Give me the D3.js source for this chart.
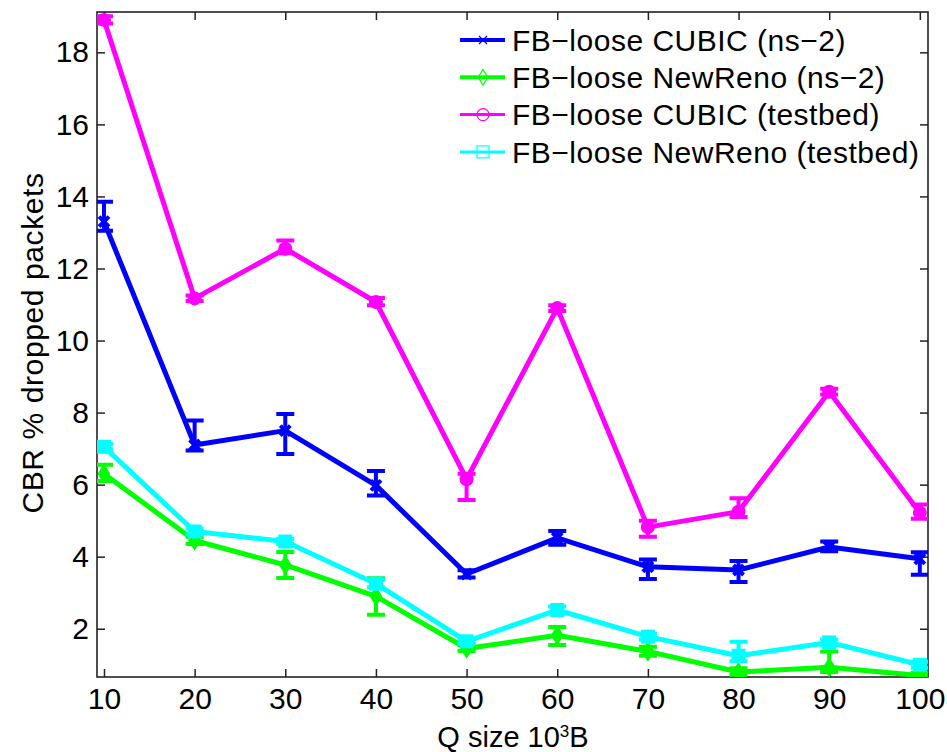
<!DOCTYPE html>
<html>
<head>
<meta charset="utf-8">
<script src="https://cdn.jsdelivr.net/npm/d3@7"></script>
<style>
  body { margin: 0; background: #fff; }
  text { font-family: "Liberation Sans", Arial, sans-serif; fill: #000; }
</style>
</head>
<body>
<svg id="chart" width="947" height="752"></svg>
<script>
// queue sizes (10^3 B)
let qSizes = [10, 20, 30, 40, 50, 60, 70, 80, 90, 100];

let cubicNs2 = [13.3, 7.1, 7.5, 5.98, 3.52, 4.52, 3.72, 3.63, 4.27, 3.94];
let cubicNs2Lo = [13.05, 6.95, 6.85, 5.7, 3.42, 4.33, 3.38, 3.3, 4.15, 3.5];
let cubicNs2Hi = [13.85, 7.78, 7.96, 6.38, 3.62, 4.71, 3.92, 3.88, 4.42, 4.12];

let renoNs2 = [6.3, 4.45, 3.77, 2.9, 1.45, 1.82, 1.37, 0.8, 0.93, 0.7];
let renoNs2Lo = [6.1, 4.35, 3.41, 2.39, 1.38, 1.55, 1.25, 0.72, 0.8, 0.65];
let renoNs2Hi = [6.55, 4.55, 4.13, 3.4, 1.55, 2.05, 1.5, 0.9, 1.37, 0.78];

let cubicTb = [18.9, 11.17, 12.55, 11.07, 6.15, 10.9, 4.82, 5.25, 8.58, 5.22];
let cubicTbLo = [18.8, 11.1, 12.42, 10.98, 5.57, 10.82, 4.55, 5.1, 8.5, 5.05];
let cubicTbHi = [19.0, 11.25, 12.78, 11.18, 6.3, 10.98, 5.0, 5.62, 8.66, 5.45];

let renoTb = [7.05, 4.7, 4.42, 3.25, 1.65, 2.52, 1.78, 1.25, 1.62, 1.0];
let renoTbLo = [6.98, 4.62, 4.35, 3.15, 1.58, 2.42, 1.7, 1.1, 1.55, 0.92];
let renoTbHi = [7.12, 4.78, 4.5, 3.35, 1.72, 2.62, 1.86, 1.64, 1.7, 1.08];

let yTicks = [2, 4, 6, 8, 10, 12, 14, 16, 18];

let seriesNames = ["FB\u2212loose CUBIC (ns\u22122)", "FB\u2212loose NewReno (ns\u22122)",
    "FB\u2212loose CUBIC (testbed)", "FB\u2212loose NewReno (testbed)"];
let seriesColors = ["#0000ff", "#00ff00", "#ff00ff", "#00ffff"];
let seriesMarkers = ["x", "diamond", "circle", "square"];

let series = [
    {mean: cubicNs2, lo: cubicNs2Lo, hi: cubicNs2Hi},
    {mean: renoNs2, lo: renoNs2Lo, hi: renoNs2Hi},
    {mean: cubicTb, lo: cubicTbLo, hi: cubicTbHi},
    {mean: renoTb, lo: renoTbLo, hi: renoTbHi}
];

let svg = d3.select("#chart"),
    margin = {top: 12, right: 19, bottom: 75, left: 97},
    width = 947 - margin.left - margin.right,
    height = 752 - margin.top - margin.bottom,
    g = svg.append("g").attr("transform", "translate(" + margin.left + "," + margin.top + ")");

let scaleX = d3.scaleLinear().domain([9.23, 100.9]).range([0, width]);
let scaleY = d3.scaleLinear().domain([0.66, 19.12]).range([height, 0]);

svg.append("defs").append("clipPath").attr("id", "clip")
    .append("rect").attr("width", width).attr("height", height);

// axes, ticks inside, mirrored on top / right
let tickLen = 8;
g.append("g").attr("transform", "translate(0," + height + ")")
    .call(d3.axisBottom(scaleX).tickValues(qSizes).tickSizeInner(-tickLen).tickSizeOuter(0).tickPadding(11))
    .call(a => a.selectAll("text").style("font-size", "30px").attr("dy", "0.71em"));
g.append("g")
    .call(d3.axisTop(scaleX).tickValues(qSizes).tickSizeInner(-tickLen).tickSizeOuter(0).tickFormat(""));
g.append("g")
    .call(d3.axisLeft(scaleY).tickValues(yTicks).tickSizeInner(-tickLen).tickSizeOuter(0).tickPadding(8))
    .call(a => a.selectAll("text").style("font-size", "30px"));
g.append("g").attr("transform", "translate(" + width + ",0)")
    .call(d3.axisRight(scaleY).tickValues(yTicks).tickSizeInner(-tickLen).tickSizeOuter(0).tickFormat(""));
g.selectAll(".domain").remove();
g.selectAll(".tick line").attr("stroke", "#222").attr("stroke-width", 1.5);
g.append("rect").attr("width", width).attr("height", height)
    .attr("fill", "none").attr("stroke", "#222").attr("stroke-width", 1.6);

// axis labels
svg.append("text")
    .attr("transform", "translate(43," + (margin.top + 331) + ") rotate(-90)")
    .attr("text-anchor", "middle")
    .style("font-size", "30px").style("letter-spacing", "0.6px")
    .text("CBR % dropped packets");

let xl = svg.append("text")
    .attr("x", 513).attr("y", 747)
    .attr("text-anchor", "middle")
    .style("font-size", "29px");
xl.append("tspan").text("Q size 10");
xl.append("tspan").attr("dy", -10).style("font-size", "17px").text("3");
xl.append("tspan").attr("dy", 10).text("B");

function drawMarker(sel, type, size) {
    if (type === "x") {
        sel.append("path").attr("d", "M" + (-size) + "," + (-size) + "L" + size + "," + size +
            "M" + (-size) + "," + size + "L" + size + "," + (-size));
    } else if (type === "diamond") {
        sel.append("path").attr("d", "M0," + (-size * 1.3) + "L" + size * 0.8 + ",0L0," + size * 1.3 +
            "L" + (-size * 0.8) + ",0Z");
    } else if (type === "circle") {
        sel.append("circle").attr("r", size);
    } else {
        sel.append("rect").attr("x", -size).attr("y", -size).attr("width", size * 2).attr("height", size * 2);
    }
}

let plot = g.append("g").attr("clip-path", "url(#clip)");
let line = d3.line().x((d, i) => scaleX(qSizes[i])).y(d => scaleY(d));
let capW = 9;

series.forEach((s, k) => {
    let col = seriesColors[k];
    let sg = plot.append("g");

    // error bars
    qSizes.forEach((q, i) => {
        let x = scaleX(q), y0 = scaleY(s.lo[i]), y1 = scaleY(s.hi[i]);
        sg.append("path")
            .attr("d", "M" + x + "," + y0 + "V" + y1 +
                "M" + (x - capW) + "," + y0 + "H" + (x + capW) +
                "M" + (x - capW) + "," + y1 + "H" + (x + capW))
            .attr("stroke", col).attr("stroke-width", 4).attr("fill", "none");
    });

    sg.append("path").datum(s.mean)
        .attr("d", line)
        .attr("fill", "none").attr("stroke", col).attr("stroke-width", 5)
        .attr("stroke-linejoin", "round");

    sg.selectAll(".mk").data(s.mean).enter().append("g")
        .attr("class", "mk")
        .attr("transform", (d, i) => "translate(" + scaleX(qSizes[i]) + "," + scaleY(d) + ")")
        .each(function () { drawMarker(d3.select(this), seriesMarkers[k], 5); })
        .selectAll("*").attr("fill", col).attr("stroke", col).attr("stroke-width", 4);
});

// legend
let legend = svg.append("g");
seriesNames.forEach((name, k) => {
    let ly = 40 + k * 37.3;
    let col = seriesColors[k];
    legend.append("line").attr("x1", 460).attr("x2", 505).attr("y1", ly).attr("y2", ly)
        .attr("stroke", col).attr("stroke-width", k < 2 ? 4 : 3);
    let m = legend.append("g").attr("transform", "translate(483," + ly + ")");
    drawMarker(m, seriesMarkers[k], k === 0 ? 4 : 6);
    m.selectAll("*").attr("fill", "none").attr("stroke", col).attr("stroke-width", 1.2);
    legend.append("text").attr("x", 512).attr("y", ly).attr("dy", "0.36em")
        .style("font-size", "30px").style("letter-spacing", "0.5px")
        .text(name);
});
</script>
</body>
</html>
